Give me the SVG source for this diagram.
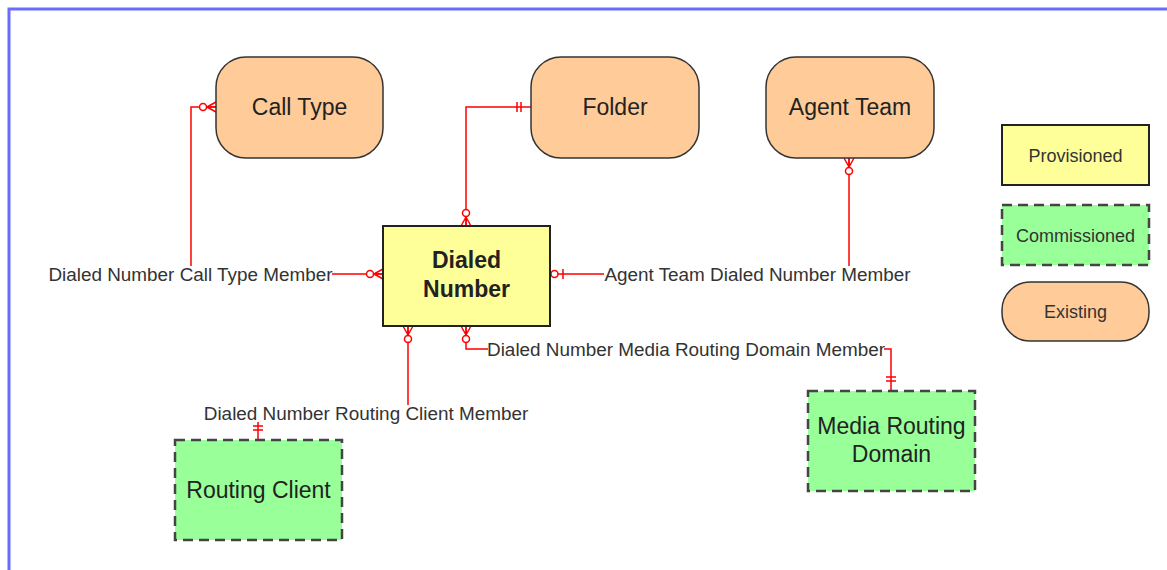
<svg xmlns="http://www.w3.org/2000/svg" width="1167" height="570" viewBox="0 0 1167 570">
<style>
  text { font-family: "Liberation Sans", Arial, sans-serif; fill: #222; }
  .node { font-size: 23px; text-anchor: middle; }
  .bold { font-weight: bold; }
  .legend { font-size: 18px; text-anchor: middle; fill: #333; }
  .label { font-size: 18.9px; text-anchor: middle; fill: #333; }
  .existing { fill: #ffcc99; stroke: #333; stroke-width: 1.5; }
  .provisioned { fill: #ffff99; stroke: #222; stroke-width: 2; }
  .commissioned { fill: #99ff99; stroke: #444; stroke-width: 2.5; stroke-dasharray: 10 6; }
  .conn { fill: none; stroke: #ff0000; stroke-width: 1.5; }
  .lblbg { fill: #ffffff; }
</style>
<defs>
  <marker id="zeroMany" markerUnits="userSpaceOnUse" viewBox="-20 -8 22 16" refX="0" refY="0" markerWidth="22" markerHeight="16" orient="auto-start-reverse">
    <path d="M-9,0 L0,-5 M-9,0 L0,5 M-9,0 L0,0" fill="none" stroke="#ff0000" stroke-width="1.5"/>
    <circle cx="-13" cy="0" r="3.5" fill="#fff" stroke="#ff0000" stroke-width="1.5"/>
  </marker>
  <marker id="zeroOne" markerUnits="userSpaceOnUse" viewBox="-20 -8 22 16" refX="0" refY="0" markerWidth="22" markerHeight="16" orient="auto-start-reverse">
    <path d="M-13,-5 L-13,5" fill="none" stroke="#ff0000" stroke-width="1.5"/>
    <circle cx="-4.5" cy="0" r="3.5" fill="#fff" stroke="#ff0000" stroke-width="1.5"/>
  </marker>
  <marker id="oneOne" markerUnits="userSpaceOnUse" viewBox="-20 -8 22 16" refX="0" refY="0" markerWidth="22" markerHeight="16" orient="auto-start-reverse">
    <path d="M-10,-5 L-10,5 M-14,-5 L-14,5" fill="none" stroke="#ff0000" stroke-width="1.5"/>
  </marker>
</defs>

<rect x="0" y="0" width="1167" height="570" fill="#ffffff"/>
<path d="M9,575 V9 H1170" fill="none" stroke="#6b6bff" stroke-width="3"/>

<g id="connectors">
  <g id="conn-calltype">
    <path class="conn" d="M216,107 H191 V274 H383" marker-start="url(#zeroMany)" marker-end="url(#zeroMany)"/>
    <rect class="lblbg" x="48" y="266" width="284" height="17"/>
    <text class="label" x="190.5" y="280.5">Dialed Number Call Type Member</text>
  </g>
  <g id="conn-folder">
    <path class="conn" d="M531,107 H466 V226" marker-start="url(#oneOne)" marker-end="url(#zeroMany)"/>
  </g>
  <g id="conn-agentteam">
    <path class="conn" d="M849,158 V274 H550" marker-start="url(#zeroMany)" marker-end="url(#zeroOne)"/>
    <rect class="lblbg" x="604" y="266" width="308" height="17"/>
    <text class="label" x="757.5" y="280.5">Agent Team Dialed Number Member</text>
  </g>
  <g id="conn-routingclient">
    <path class="conn" d="M408,326 V413 H258 V440" marker-start="url(#zeroMany)" marker-end="url(#oneOne)"/>
    <rect class="lblbg" x="204" y="405" width="324" height="17"/>
    <text class="label" x="366" y="419.5">Dialed Number Routing Client Member</text>
  </g>
  <g id="conn-mrd">
    <path class="conn" d="M466,326 V349 H891 V391" marker-start="url(#zeroMany)" marker-end="url(#oneOne)"/>
    <rect class="lblbg" x="488" y="341" width="396" height="17"/>
    <text class="label" x="686" y="355.5">Dialed Number Media Routing Domain Member</text>
  </g>
</g>

<g id="node-calltype">
  <rect class="existing" x="216" y="57" width="167" height="101" rx="30" ry="30"/>
  <text class="node" x="299.5" y="115">Call Type</text>
</g>
<g id="node-folder">
  <rect class="existing" x="531" y="57" width="168" height="101" rx="30" ry="30"/>
  <text class="node" x="615" y="115">Folder</text>
</g>
<g id="node-agentteam">
  <rect class="existing" x="766" y="57" width="168" height="101" rx="30" ry="30"/>
  <text class="node" x="850" y="115">Agent Team</text>
</g>
<g id="node-dialednumber">
  <rect class="provisioned" x="383" y="226" width="167" height="100"/>
  <text class="node bold" x="466.5" y="268">Dialed</text>
  <text class="node bold" x="466.5" y="297">Number</text>
</g>
<g id="node-routingclient">
  <rect class="commissioned" x="175" y="440" width="167" height="100"/>
  <text class="node" x="258.5" y="498">Routing Client</text>
</g>
<g id="node-mrd">
  <rect class="commissioned" x="808" y="391" width="167" height="100"/>
  <text class="node" x="891.5" y="434">Media Routing</text>
  <text class="node" x="891.5" y="462">Domain</text>
</g>

<g id="legend-provisioned">
  <rect class="provisioned" x="1002" y="125" width="147" height="60"/>
  <text class="legend" x="1075.5" y="161.5">Provisioned</text>
</g>
<g id="legend-commissioned">
  <rect class="commissioned" x="1002" y="205" width="147" height="60"/>
  <text class="legend" x="1075.5" y="241.5">Commissioned</text>
</g>
<g id="legend-existing">
  <rect class="existing" x="1002" y="282" width="147" height="59" rx="28" ry="28"/>
  <text class="legend" x="1075.5" y="317.5">Existing</text>
</g>
</svg>
